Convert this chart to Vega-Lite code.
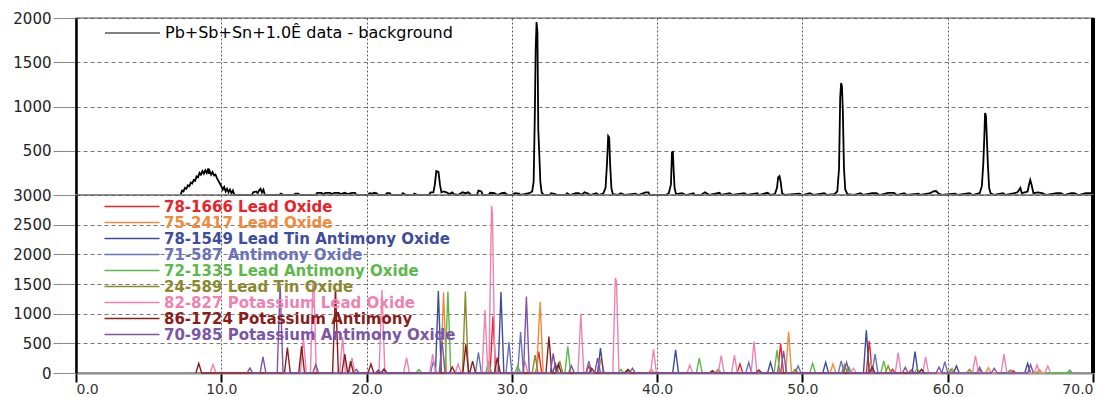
{
"$schema": "https://vega.github.io/schema/vega-lite/v6.json",
"padding": {"left": 12, "top": 10, "right": 0, "bottom": 0},
"bounds": "flush",
"spacing": 0,
"background": "white",
"config": {
  "view": {"stroke": "#8a8a8a", "strokeWidth": 1.5},
  "axis": {"labelFont": "DejaVu Sans", "labelFontSize": 15, "labelColor": "#222", "gridColor": "#444", "gridWidth": 0.8, "tickColor": "#8a8a8a", "domainColor": "#111", "title": null},
  "legend": {"orient": "none", "title": null, "padding": 0, "symbolType": "M-5,0H5", "symbolSize": 121, "symbolStrokeWidth": 1.3, "labelFont": "DejaVu Sans", "labelFontSize": 15, "labelFontWeight": "bold", "labelOffset": 24.5, "rowPadding": 0, "labelLimit": 500}
},
"resolve": {"scale": {"x": "independent", "y": "independent"}},
"datasets": {
  "phases": [
    {"id": "78-1666", "phase": "78-1666 Lead Oxide"},
    {"id": "75-2417", "phase": "75-2417 Lead Oxide"},
    {"id": "78-1549", "phase": "78-1549 Lead Tin Antimony Oxide"},
    {"id": "71-587", "phase": "71-587 Antimony Oxide"},
    {"id": "72-1335", "phase": "72-1335 Lead Antimony Oxide"},
    {"id": "24-589", "phase": "24-589 Lead Tin Oxide"},
    {"id": "82-827", "phase": "82-827 Potassium Lead Oxide"},
    {"id": "86-1724", "phase": "86-1724 Potassium Antimony"},
    {"id": "70-985", "phase": "70-985 Potassium Antimony Oxide"}
  ],
  "obs": [
    {"x":7.2,"y":0},{"x":7.3,"y":50},{"x":7.4,"y":40},{"x":7.5,"y":80},{"x":7.6,"y":70},{"x":7.7,"y":110},{"x":7.8,"y":100},{"x":7.9,"y":140},{"x":8.0,"y":130},{"x":8.1,"y":170},{"x":8.2,"y":160},{"x":8.3,"y":210},{"x":8.4,"y":200},{"x":8.5,"y":250},{"x":8.6,"y":230},{"x":8.7,"y":270},{"x":8.8,"y":240},{"x":8.9,"y":280},{"x":9.0,"y":250},{"x":9.1,"y":300},{"x":9.15,"y":240},{"x":9.2,"y":270},{"x":9.3,"y":230},{"x":9.4,"y":260},{"x":9.5,"y":220},{"x":9.6,"y":230},{"x":9.7,"y":190},{"x":9.8,"y":160},{"x":9.9,"y":130},{"x":10.0,"y":100},{"x":10.1,"y":60},{"x":10.2,"y":90},{"x":10.3,"y":40},{"x":10.4,"y":70},{"x":10.5,"y":30},{"x":10.6,"y":60},{"x":10.7,"y":20},{"x":10.8,"y":50},{"x":10.9,"y":0},
    {"x":12.1,"y":0},{"x":12.2,"y":30},{"x":12.4,"y":40},{"x":12.5,"y":20},{"x":12.6,"y":50},{"x":12.7,"y":70},{"x":12.8,"y":30},{"x":12.9,"y":60},{"x":13.0,"y":0},
    {"x":14.0,"y":0},{"x":14.1,"y":15},{"x":14.3,"y":0},{"x":15.0,"y":0},{"x":15.1,"y":15},{"x":15.3,"y":15},{"x":15.4,"y":0},{"x":16.5,"y":0},{"x":16.6,"y":25},{"x":16.9,"y":25},{"x":17.0,"y":10},{"x":17.2,"y":25},{"x":17.5,"y":25},{"x":17.6,"y":10},{"x":17.8,"y":25},{"x":18.1,"y":25},{"x":18.2,"y":10},{"x":18.5,"y":25},{"x":18.7,"y":10},{"x":19.0,"y":25},{"x":19.2,"y":25},{"x":19.3,"y":0},
    {"x":20.1,"y":0},{"x":20.2,"y":20},{"x":20.4,"y":15},{"x":20.5,"y":25},{"x":20.7,"y":20},{"x":20.8,"y":0},{"x":21.3,"y":0},{"x":21.4,"y":20},{"x":21.6,"y":20},{"x":21.7,"y":0},{"x":22.4,"y":0},{"x":22.5,"y":20},{"x":22.7,"y":0},{"x":23.2,"y":0},{"x":23.3,"y":15},{"x":23.5,"y":0},
    {"x":24.3,"y":0},{"x":24.4,"y":30},{"x":24.6,"y":30},{"x":24.7,"y":120},{"x":24.8,"y":270},{"x":24.95,"y":260},{"x":25.05,"y":120},{"x":25.15,"y":30},{"x":25.3,"y":40},{"x":25.5,"y":30},{"x":25.7,"y":10},{"x":25.9,"y":30},{"x":26.0,"y":10},{"x":26.3,"y":0},{"x":26.6,"y":30},{"x":26.8,"y":20},{"x":27.0,"y":30},{"x":27.2,"y":0},{"x":27.6,"y":0},{"x":27.7,"y":50},{"x":27.9,"y":40},{"x":28.0,"y":0},{"x":28.4,"y":0},{"x":28.5,"y":25},{"x":28.8,"y":20},{"x":29.0,"y":0},{"x":29.3,"y":20},{"x":29.5,"y":25},{"x":29.7,"y":0},{"x":30.0,"y":0},{"x":30.2,"y":20},{"x":30.5,"y":15},{"x":30.6,"y":0},
    {"x":31.2,"y":20},{"x":31.4,"y":40},{"x":31.5,"y":150},{"x":31.58,"y":900},{"x":31.64,"y":1650},{"x":31.7,"y":1955},{"x":31.76,"y":1840},{"x":31.82,"y":735},{"x":31.88,"y":500},{"x":31.96,"y":150},{"x":32.05,"y":30},{"x":32.2,"y":0},
    {"x":32.6,"y":0},{"x":32.7,"y":20},{"x":33.0,"y":10},{"x":33.1,"y":0},{"x":33.7,"y":0},{"x":33.8,"y":20},{"x":34.0,"y":0},{"x":34.4,"y":20},{"x":34.6,"y":20},{"x":34.8,"y":0},{"x":35.0,"y":30},{"x":35.2,"y":20},{"x":35.4,"y":0},{"x":35.8,"y":20},{"x":36.0,"y":0},
    {"x":36.3,"y":20},{"x":36.45,"y":80},{"x":36.55,"y":360},{"x":36.63,"y":667},{"x":36.7,"y":650},{"x":36.76,"y":360},{"x":36.85,"y":80},{"x":36.95,"y":10},{"x":37.3,"y":0},{"x":37.5,"y":20},{"x":37.8,"y":0},{"x":38.5,"y":15},{"x":38.7,"y":0},{"x":39.2,"y":30},{"x":39.4,"y":30},{"x":39.5,"y":0},
    {"x":40.6,"y":0},{"x":40.8,"y":20},{"x":40.95,"y":120},{"x":41.02,"y":480},{"x":41.08,"y":486},{"x":41.14,"y":270},{"x":41.2,"y":80},{"x":41.3,"y":10},{"x":41.7,"y":20},{"x":42.0,"y":0},{"x":42.5,"y":20},{"x":42.6,"y":0},{"x":43.0,"y":0},{"x":43.3,"y":30},{"x":43.4,"y":20},{"x":43.6,"y":0},{"x":44.3,"y":25},{"x":44.4,"y":0},{"x":45.0,"y":20},{"x":45.2,"y":0},{"x":46.0,"y":20},{"x":46.2,"y":0},{"x":46.9,"y":20},{"x":47.0,"y":0},{"x":47.6,"y":25},{"x":47.8,"y":0},
    {"x":48.1,"y":10},{"x":48.25,"y":80},{"x":48.33,"y":200},{"x":48.42,"y":215},{"x":48.5,"y":150},{"x":48.6,"y":20},{"x":48.8,"y":0},{"x":49.8,"y":15},{"x":50.0,"y":0},{"x":50.5,"y":20},{"x":50.8,"y":0},{"x":51.5,"y":20},{"x":51.7,"y":0},
    {"x":52.2,"y":10},{"x":52.4,"y":40},{"x":52.52,"y":300},{"x":52.6,"y":1100},{"x":52.66,"y":1265},{"x":52.72,"y":1230},{"x":52.78,"y":960},{"x":52.86,"y":300},{"x":52.95,"y":60},{"x":53.1,"y":10},{"x":53.5,"y":0},{"x":54.0,"y":20},{"x":54.2,"y":0},{"x":54.8,"y":20},{"x":55.1,"y":20},{"x":55.3,"y":0},{"x":55.9,"y":25},{"x":56.3,"y":25},{"x":56.5,"y":0},{"x":57.0,"y":20},{"x":57.2,"y":0},{"x":58.0,"y":15},{"x":58.1,"y":0},{"x":58.8,"y":20},{"x":59.0,"y":40},{"x":59.2,"y":45},{"x":59.35,"y":20},{"x":59.6,"y":0},{"x":60.5,"y":15},{"x":60.7,"y":0},{"x":61.5,"y":20},{"x":61.7,"y":0},
    {"x":62.2,"y":20},{"x":62.35,"y":100},{"x":62.45,"y":360},{"x":62.52,"y":660},{"x":62.57,"y":925},{"x":62.63,"y":900},{"x":62.69,"y":660},{"x":62.76,"y":360},{"x":62.85,"y":80},{"x":62.95,"y":20},{"x":63.2,"y":0},{"x":63.8,"y":20},{"x":64.0,"y":0},{"x":64.6,"y":20},{"x":64.8,"y":30},{"x":65.0,"y":80},{"x":65.1,"y":20},{"x":65.3,"y":30},{"x":65.5,"y":40},{"x":65.6,"y":120},{"x":65.68,"y":170},{"x":65.78,"y":110},{"x":65.9,"y":20},{"x":66.2,"y":30},{"x":66.5,"y":20},{"x":66.8,"y":0},{"x":67.5,"y":20},{"x":67.8,"y":20},{"x":68.0,"y":0},{"x":68.5,"y":20},{"x":68.7,"y":20},{"x":69.0,"y":0},{"x":69.5,"y":20},{"x":70.0,"y":20}
  ],
  "ref": [
    {"id":"78-1666","x":28.5,"y":0},{"id":"78-1666","x":28.7,"y":950},{"id":"78-1666","x":28.9,"y":0},{"id":"78-1666","x":31.65,"y":0},{"id":"78-1666","x":31.85,"y":360},{"id":"78-1666","x":32.05,"y":0},{"id":"78-1666","x":35.1,"y":0},{"id":"78-1666","x":35.3,"y":120},{"id":"78-1666","x":35.5,"y":0},{"id":"78-1666","x":45.5,"y":0},{"id":"78-1666","x":45.7,"y":150},{"id":"78-1666","x":45.9,"y":0},{"id":"78-1666","x":48.3,"y":0},{"id":"78-1666","x":48.5,"y":495},{"id":"78-1666","x":48.7,"y":0},{"id":"78-1666","x":54.4,"y":0},{"id":"78-1666","x":54.6,"y":540},{"id":"78-1666","x":54.8,"y":0},{"id":"78-1666","x":56.0,"y":0},{"id":"78-1666","x":56.2,"y":60},{"id":"78-1666","x":56.4,"y":0},{"id":"78-1666","x":57.3,"y":0},{"id":"78-1666","x":57.5,"y":50},{"id":"78-1666","x":57.7,"y":0},{"id":"78-1666","x":62.0,"y":0},{"id":"78-1666","x":62.2,"y":60},{"id":"78-1666","x":62.4,"y":0},{"id":"78-1666","x":64.3,"y":0},{"id":"78-1666","x":64.5,"y":40},{"id":"78-1666","x":64.7,"y":0},
    {"id":"75-2417","x":25.1,"y":0},{"id":"75-2417","x":25.3,"y":1360},{"id":"75-2417","x":25.5,"y":0},{"id":"75-2417","x":31.7,"y":0},{"id":"75-2417","x":31.82,"y":600},{"id":"75-2417","x":31.95,"y":1200},{"id":"75-2417","x":32.15,"y":0},{"id":"75-2417","x":35.95,"y":0},{"id":"75-2417","x":36.15,"y":260},{"id":"75-2417","x":36.35,"y":0},{"id":"75-2417","x":39.4,"y":0},{"id":"75-2417","x":39.6,"y":60},{"id":"75-2417","x":39.8,"y":0},{"id":"75-2417","x":48.85,"y":0},{"id":"75-2417","x":49.05,"y":695},{"id":"75-2417","x":49.25,"y":0},{"id":"75-2417","x":51.9,"y":0},{"id":"75-2417","x":52.1,"y":150},{"id":"75-2417","x":52.3,"y":0},{"id":"75-2417","x":54.5,"y":0},{"id":"75-2417","x":54.7,"y":200},{"id":"75-2417","x":54.9,"y":0},{"id":"75-2417","x":60.1,"y":0},{"id":"75-2417","x":60.3,"y":80},{"id":"75-2417","x":60.5,"y":0},{"id":"75-2417","x":62.6,"y":0},{"id":"75-2417","x":62.8,"y":90},{"id":"75-2417","x":63.0,"y":0},{"id":"75-2417","x":66.1,"y":0},{"id":"75-2417","x":66.3,"y":60},{"id":"75-2417","x":66.5,"y":0},
    {"id":"78-1549","x":24.74,"y":0},{"id":"78-1549","x":24.94,"y":1380},{"id":"78-1549","x":25.14,"y":0},{"id":"78-1549","x":29.05,"y":0},{"id":"78-1549","x":29.25,"y":1365},{"id":"78-1549","x":29.45,"y":0},{"id":"78-1549","x":32.8,"y":0},{"id":"78-1549","x":33.0,"y":150},{"id":"78-1549","x":33.2,"y":0},{"id":"78-1549","x":35.9,"y":0},{"id":"78-1549","x":36.1,"y":418},{"id":"78-1549","x":36.3,"y":0},{"id":"78-1549","x":41.07,"y":0},{"id":"78-1549","x":41.27,"y":390},{"id":"78-1549","x":41.47,"y":0},{"id":"78-1549","x":47.6,"y":0},{"id":"78-1549","x":47.8,"y":180},{"id":"78-1549","x":48.0,"y":0},{"id":"78-1549","x":51.4,"y":0},{"id":"78-1549","x":51.6,"y":180},{"id":"78-1549","x":51.8,"y":0},{"id":"78-1549","x":54.2,"y":0},{"id":"78-1549","x":54.4,"y":720},{"id":"78-1549","x":54.6,"y":0},{"id":"78-1549","x":57.55,"y":0},{"id":"78-1549","x":57.75,"y":360},{"id":"78-1549","x":57.95,"y":0},{"id":"78-1549","x":60.4,"y":0},{"id":"78-1549","x":60.6,"y":120},{"id":"78-1549","x":60.8,"y":0},{"id":"78-1549","x":65.3,"y":0},{"id":"78-1549","x":65.5,"y":160},{"id":"78-1549","x":65.7,"y":0},
    {"id":"71-587","x":19.1,"y":0},{"id":"71-587","x":19.3,"y":60},{"id":"71-587","x":19.5,"y":0},{"id":"71-587","x":24.4,"y":0},{"id":"71-587","x":24.6,"y":200},{"id":"71-587","x":24.8,"y":0},{"id":"71-587","x":27.5,"y":0},{"id":"71-587","x":27.7,"y":350},{"id":"71-587","x":27.9,"y":0},{"id":"71-587","x":29.6,"y":0},{"id":"71-587","x":29.8,"y":520},{"id":"71-587","x":30.0,"y":0},{"id":"71-587","x":30.4,"y":0},{"id":"71-587","x":30.6,"y":690},{"id":"71-587","x":30.8,"y":0},{"id":"71-587","x":35.1,"y":0},{"id":"71-587","x":35.3,"y":205},{"id":"71-587","x":35.5,"y":0},{"id":"71-587","x":46.1,"y":0},{"id":"71-587","x":46.3,"y":180},{"id":"71-587","x":46.5,"y":0},{"id":"71-587","x":49.5,"y":0},{"id":"71-587","x":49.7,"y":120},{"id":"71-587","x":49.9,"y":0},{"id":"71-587","x":52.47,"y":0},{"id":"71-587","x":52.67,"y":205},{"id":"71-587","x":52.87,"y":0},{"id":"71-587","x":54.8,"y":0},{"id":"71-587","x":55.0,"y":317},{"id":"71-587","x":55.2,"y":0},{"id":"71-587","x":59.6,"y":0},{"id":"71-587","x":59.8,"y":190},{"id":"71-587","x":60.0,"y":0},{"id":"71-587","x":62.0,"y":0},{"id":"71-587","x":62.2,"y":100},{"id":"71-587","x":62.4,"y":0},
    {"id":"72-1335","x":23.4,"y":0},{"id":"72-1335","x":23.6,"y":60},{"id":"72-1335","x":23.8,"y":0},{"id":"72-1335","x":25.4,"y":0},{"id":"72-1335","x":25.6,"y":1375},{"id":"72-1335","x":25.8,"y":0},{"id":"72-1335","x":28.2,"y":0},{"id":"72-1335","x":28.4,"y":200},{"id":"72-1335","x":28.6,"y":0},{"id":"72-1335","x":30.2,"y":0},{"id":"72-1335","x":30.4,"y":120},{"id":"72-1335","x":30.6,"y":0},{"id":"72-1335","x":33.65,"y":0},{"id":"72-1335","x":33.85,"y":450},{"id":"72-1335","x":34.05,"y":0},{"id":"72-1335","x":37.3,"y":0},{"id":"72-1335","x":37.5,"y":60},{"id":"72-1335","x":37.7,"y":0},{"id":"72-1335","x":42.7,"y":0},{"id":"72-1335","x":42.9,"y":250},{"id":"72-1335","x":43.1,"y":0},{"id":"72-1335","x":48.05,"y":0},{"id":"72-1335","x":48.25,"y":385},{"id":"72-1335","x":48.45,"y":0},{"id":"72-1335","x":50.5,"y":0},{"id":"72-1335","x":50.7,"y":160},{"id":"72-1335","x":50.9,"y":0},{"id":"72-1335","x":53.0,"y":0},{"id":"72-1335","x":53.2,"y":100},{"id":"72-1335","x":53.4,"y":0},{"id":"72-1335","x":55.4,"y":0},{"id":"72-1335","x":55.6,"y":205},{"id":"72-1335","x":55.8,"y":0},{"id":"72-1335","x":57.7,"y":0},{"id":"72-1335","x":57.9,"y":80},{"id":"72-1335","x":58.1,"y":0},{"id":"72-1335","x":60.0,"y":0},{"id":"72-1335","x":60.2,"y":60},{"id":"72-1335","x":60.4,"y":0},{"id":"72-1335","x":68.2,"y":0},{"id":"72-1335","x":68.4,"y":50},{"id":"72-1335","x":68.6,"y":0},
    {"id":"24-589","x":26.6,"y":0},{"id":"24-589","x":26.8,"y":1375},{"id":"24-589","x":27.0,"y":0},{"id":"24-589","x":31.4,"y":0},{"id":"24-589","x":31.6,"y":300},{"id":"24-589","x":31.8,"y":0},{"id":"24-589","x":33.1,"y":0},{"id":"24-589","x":33.3,"y":200},{"id":"24-589","x":33.5,"y":0},{"id":"24-589","x":37.7,"y":0},{"id":"24-589","x":37.9,"y":40},{"id":"24-589","x":38.1,"y":0},{"id":"24-589","x":44.0,"y":0},{"id":"24-589","x":44.2,"y":60},{"id":"24-589","x":44.4,"y":0},{"id":"24-589","x":49.3,"y":0},{"id":"24-589","x":49.5,"y":60},{"id":"24-589","x":49.7,"y":0},{"id":"24-589","x":52.7,"y":0},{"id":"24-589","x":52.9,"y":140},{"id":"24-589","x":53.1,"y":0},{"id":"24-589","x":55.7,"y":0},{"id":"24-589","x":55.9,"y":120},{"id":"24-589","x":56.1,"y":0},{"id":"24-589","x":61.3,"y":0},{"id":"24-589","x":61.5,"y":60},{"id":"24-589","x":61.7,"y":0},{"id":"24-589","x":64.1,"y":0},{"id":"24-589","x":64.3,"y":50},{"id":"24-589","x":64.5,"y":0},
    {"id":"82-827","x":9.23,"y":0},{"id":"82-827","x":9.43,"y":140},{"id":"82-827","x":9.63,"y":0},{"id":"82-827","x":15.45,"y":0},{"id":"82-827","x":15.65,"y":600},{"id":"82-827","x":15.85,"y":0},{"id":"82-827","x":16.14,"y":0},{"id":"82-827","x":16.3,"y":1490},{"id":"82-827","x":16.38,"y":1460},{"id":"82-827","x":16.54,"y":0},{"id":"82-827","x":18.15,"y":0},{"id":"82-827","x":18.35,"y":600},{"id":"82-827","x":18.55,"y":0},{"id":"82-827","x":18.8,"y":0},{"id":"82-827","x":19.0,"y":250},{"id":"82-827","x":19.2,"y":0},{"id":"82-827","x":20.86,"y":0},{"id":"82-827","x":21.06,"y":1400},{"id":"82-827","x":21.26,"y":0},{"id":"82-827","x":22.55,"y":0},{"id":"82-827","x":22.75,"y":260},{"id":"82-827","x":22.95,"y":0},{"id":"82-827","x":24.35,"y":0},{"id":"82-827","x":24.55,"y":320},{"id":"82-827","x":24.75,"y":0},{"id":"82-827","x":26.1,"y":0},{"id":"82-827","x":26.3,"y":150},{"id":"82-827","x":26.5,"y":0},{"id":"82-827","x":27.95,"y":0},{"id":"82-827","x":28.15,"y":1060},{"id":"82-827","x":28.35,"y":0},{"id":"82-827","x":28.42,"y":0},{"id":"82-827","x":28.6,"y":2820},{"id":"82-827","x":28.66,"y":2700},{"id":"82-827","x":28.84,"y":0},{"id":"82-827","x":30.7,"y":0},{"id":"82-827","x":30.9,"y":200},{"id":"82-827","x":31.1,"y":0},{"id":"82-827","x":34.55,"y":0},{"id":"82-827","x":34.75,"y":1000},{"id":"82-827","x":34.95,"y":0},{"id":"82-827","x":36.95,"y":0},{"id":"82-827","x":37.12,"y":1600},{"id":"82-827","x":37.2,"y":1550},{"id":"82-827","x":37.37,"y":0},{"id":"82-827","x":39.55,"y":0},{"id":"82-827","x":39.75,"y":400},{"id":"82-827","x":39.95,"y":0},{"id":"82-827","x":42.05,"y":0},{"id":"82-827","x":42.25,"y":134},{"id":"82-827","x":42.45,"y":0},{"id":"82-827","x":44.21,"y":0},{"id":"82-827","x":44.41,"y":295},{"id":"82-827","x":44.61,"y":0},{"id":"82-827","x":45.12,"y":0},{"id":"82-827","x":45.32,"y":300},{"id":"82-827","x":45.52,"y":0},{"id":"82-827","x":46.47,"y":0},{"id":"82-827","x":46.67,"y":530},{"id":"82-827","x":46.87,"y":0},{"id":"82-827","x":53.3,"y":0},{"id":"82-827","x":53.5,"y":80},{"id":"82-827","x":53.7,"y":0},{"id":"82-827","x":56.39,"y":0},{"id":"82-827","x":56.59,"y":345},{"id":"82-827","x":56.79,"y":0},{"id":"82-827","x":58.28,"y":0},{"id":"82-827","x":58.48,"y":270},{"id":"82-827","x":58.68,"y":0},{"id":"82-827","x":61.71,"y":0},{"id":"82-827","x":61.91,"y":295},{"id":"82-827","x":62.11,"y":0},{"id":"82-827","x":63.67,"y":0},{"id":"82-827","x":63.87,"y":317},{"id":"82-827","x":64.07,"y":0},{"id":"82-827","x":65.95,"y":0},{"id":"82-827","x":66.15,"y":134},{"id":"82-827","x":66.35,"y":0},{"id":"82-827","x":66.69,"y":0},{"id":"82-827","x":66.89,"y":117},{"id":"82-827","x":67.09,"y":0},
    {"id":"86-1724","x":8.25,"y":0},{"id":"86-1724","x":8.45,"y":160},{"id":"86-1724","x":8.65,"y":0},{"id":"86-1724","x":14.35,"y":0},{"id":"86-1724","x":14.55,"y":430},{"id":"86-1724","x":14.75,"y":0},{"id":"86-1724","x":15.33,"y":0},{"id":"86-1724","x":15.53,"y":455},{"id":"86-1724","x":15.73,"y":0},{"id":"86-1724","x":17.66,"y":0},{"id":"86-1724","x":17.86,"y":1430},{"id":"86-1724","x":18.06,"y":0},{"id":"86-1724","x":18.3,"y":0},{"id":"86-1724","x":18.5,"y":320},{"id":"86-1724","x":18.7,"y":0},{"id":"86-1724","x":18.75,"y":0},{"id":"86-1724","x":18.9,"y":200},{"id":"86-1724","x":19.1,"y":0},{"id":"86-1724","x":20.1,"y":0},{"id":"86-1724","x":20.3,"y":150},{"id":"86-1724","x":20.5,"y":0},{"id":"86-1724","x":21.0,"y":0},{"id":"86-1724","x":21.2,"y":70},{"id":"86-1724","x":21.4,"y":0},{"id":"86-1724","x":25.7,"y":0},{"id":"86-1724","x":25.9,"y":100},{"id":"86-1724","x":26.1,"y":0},{"id":"86-1724","x":26.63,"y":0},{"id":"86-1724","x":26.83,"y":485},{"id":"86-1724","x":27.03,"y":0},{"id":"86-1724","x":27.1,"y":0},{"id":"86-1724","x":27.3,"y":200},{"id":"86-1724","x":27.5,"y":0},{"id":"86-1724","x":28.8,"y":0},{"id":"86-1724","x":29.0,"y":260},{"id":"86-1724","x":29.2,"y":0},{"id":"86-1724","x":32.35,"y":0},{"id":"86-1724","x":32.55,"y":615},{"id":"86-1724","x":32.75,"y":0},{"id":"86-1724","x":33.0,"y":0},{"id":"86-1724","x":33.2,"y":150},{"id":"86-1724","x":33.4,"y":0},{"id":"86-1724","x":35.3,"y":0},{"id":"86-1724","x":35.5,"y":80},{"id":"86-1724","x":35.7,"y":0},{"id":"86-1724","x":37.8,"y":0},{"id":"86-1724","x":38.0,"y":60},{"id":"86-1724","x":38.2,"y":0},{"id":"86-1724","x":43.6,"y":0},{"id":"86-1724","x":43.8,"y":40},{"id":"86-1724","x":44.0,"y":0},{"id":"86-1724","x":46.8,"y":0},{"id":"86-1724","x":47.0,"y":50},{"id":"86-1724","x":47.2,"y":0},{"id":"86-1724","x":54.6,"y":0},{"id":"86-1724","x":54.8,"y":100},{"id":"86-1724","x":55.0,"y":0},{"id":"86-1724","x":58.0,"y":0},{"id":"86-1724","x":58.2,"y":60},{"id":"86-1724","x":58.4,"y":0},
    {"id":"70-985","x":11.77,"y":0},{"id":"70-985","x":11.97,"y":85},{"id":"70-985","x":12.17,"y":0},{"id":"70-985","x":12.67,"y":0},{"id":"70-985","x":12.87,"y":270},{"id":"70-985","x":13.07,"y":0},{"id":"70-985","x":13.85,"y":0},{"id":"70-985","x":14.05,"y":1475},{"id":"70-985","x":14.25,"y":0},{"id":"70-985","x":16.3,"y":0},{"id":"70-985","x":16.5,"y":140},{"id":"70-985","x":16.7,"y":0},{"id":"70-985","x":20.6,"y":0},{"id":"70-985","x":20.8,"y":50},{"id":"70-985","x":21.0,"y":0},{"id":"70-985","x":25.0,"y":0},{"id":"70-985","x":25.2,"y":540},{"id":"70-985","x":25.4,"y":0},{"id":"70-985","x":30.8,"y":0},{"id":"70-985","x":31.0,"y":1290},{"id":"70-985","x":31.2,"y":0},{"id":"70-985","x":32.65,"y":0},{"id":"70-985","x":32.85,"y":330},{"id":"70-985","x":33.05,"y":0},{"id":"70-985","x":33.9,"y":0},{"id":"70-985","x":34.1,"y":120},{"id":"70-985","x":34.3,"y":0},{"id":"70-985","x":35.7,"y":0},{"id":"70-985","x":35.9,"y":250},{"id":"70-985","x":36.1,"y":0},{"id":"70-985","x":38.1,"y":0},{"id":"70-985","x":38.3,"y":80},{"id":"70-985","x":38.5,"y":0},{"id":"70-985","x":48.5,"y":0},{"id":"70-985","x":48.7,"y":375},{"id":"70-985","x":48.9,"y":0},{"id":"70-985","x":52.84,"y":0},{"id":"70-985","x":53.04,"y":180},{"id":"70-985","x":53.24,"y":0},{"id":"70-985","x":56.88,"y":0},{"id":"70-985","x":57.08,"y":95},{"id":"70-985","x":57.28,"y":0},{"id":"70-985","x":59.2,"y":0},{"id":"70-985","x":59.4,"y":100},{"id":"70-985","x":59.6,"y":0},{"id":"70-985","x":63.0,"y":0},{"id":"70-985","x":63.2,"y":80},{"id":"70-985","x":63.4,"y":0},{"id":"70-985","x":65.5,"y":0},{"id":"70-985","x":65.7,"y":140},{"id":"70-985","x":65.9,"y":0}
  ]
},
"vconcat": [
  {
    "width": 1017, "height": 177,
    "data": {"name": "obs"},
    "layer": [
      {
        "mark": {"type": "line", "strokeWidth": 1.8, "interpolate": "linear"},
        "encoding": {
          "x": {"field": "x", "type": "quantitative", "scale": {"domain": [0, 70], "nice": false, "zero": false},
                "axis": {"labels": false, "ticks": false, "domain": false, "grid": true, "values": [10, 20, 30, 40, 50, 60], "gridDash": [2, 2], "gridColor": "#333"}},
          "y": {"field": "y", "type": "quantitative", "scale": {"domain": [0, 2000], "nice": false},
                "axis": {"values": [500, 1000, 1500, 2000], "format": "d", "tickSize": 23, "labelPadding": 2, "domainWidth": 2.5, "domainColor": "#000", "gridDash": [4, 3], "gridColor": "#555"}},
          "stroke": {"datum": "Pb+Sb+Sn+1.0Ê data - background", "type": "nominal", "scale": {"range": ["#000000"]},
                     "legend": {"legendX": 48.5, "legendY": 7, "labelColor": "#000", "labelFontWeight": "normal", "labelFontSize": 16, "symbolStrokeWidth": 1}}
        }
      },
      {"mark": {"type": "rule", "color": "#000", "strokeWidth": 2.5}, "encoding": {"x": {"datum": 70}}}
    ]
  },
  {
    "width": 1017, "height": 178,
    "data": {"name": "ref"},
    "transform": [{"lookup": "id", "from": {"data": {"name": "phases"}, "key": "id", "fields": ["phase"]}}],
    "layer": [
      {
        "mark": {"type": "line", "strokeWidth": 1.4, "interpolate": "linear"},
        "encoding": {
          "x": {"field": "x", "type": "quantitative", "scale": {"domain": [0, 70], "nice": false, "zero": false},
                "axis": {"values": [0, 10, 20, 30, 40, 50, 60, 70], "format": ".1f", "tickSize": 9, "tickWidth": 2, "tickColor": "#000", "domainColor": "#8a8a8a", "domainWidth": 2, "labelPadding": 0, "labelFontSize": 14, "labelColor": "#333", "grid": true, "gridDash": [2, 2], "gridColor": "#333"}},
          "y": {"field": "y", "type": "quantitative", "scale": {"domain": [0, 3000], "nice": false},
                "axis": {"values": [0, 500, 1000, 1500, 2000, 2500, 3000], "format": "d", "tickSize": 23, "labelPadding": 2, "domainWidth": 2.5, "domainColor": "#000", "gridDash": [4, 3], "gridColor": "#555"}},
          "color": {"field": "phase", "type": "nominal",
                    "scale": {"domain": ["78-1666 Lead Oxide", "75-2417 Lead Oxide", "78-1549 Lead Tin Antimony Oxide", "71-587 Antimony Oxide", "72-1335 Lead Antimony Oxide", "24-589 Lead Tin Oxide", "82-827 Potassium Lead Oxide", "86-1724 Potassium Antimony", "70-985 Potassium Antimony Oxide"],
                              "range": ["#e8232b", "#f08a3c", "#3d4d9c", "#6a72b8", "#5db84b", "#8a8a2e", "#ee82b0", "#8b1c1c", "#7a55a8"]},
                    "legend": {"legendX": 48.5, "legendY": 181, "encode": {"labels": {"update": {"fill": {"scale": "color", "field": "value"}}}}}}
        }
      },
      {"mark": {"type": "rule", "color": "#000", "strokeWidth": 2.5}, "encoding": {"x": {"datum": 70}}}
    ]
  }
]
}
